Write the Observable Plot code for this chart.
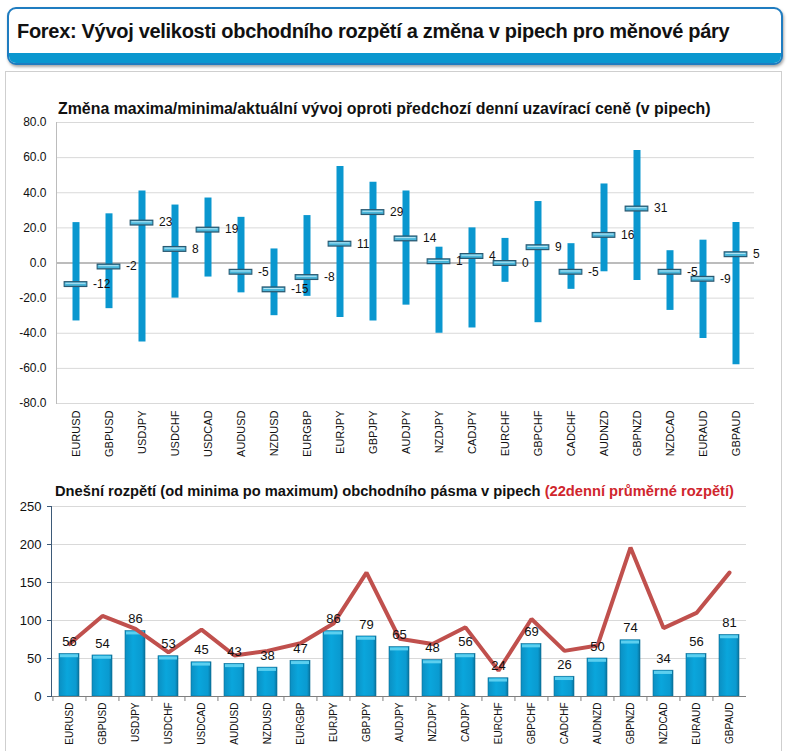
<!DOCTYPE html>
<html>
<head>
<meta charset="utf-8">
<script src="https://cdn.jsdelivr.net/npm/d3@7"></script>
<script src="https://cdn.jsdelivr.net/npm/@observablehq/plot@0.6"></script>
<style>
  html, body { margin: 0; padding: 0; background: #fff; }
  body { width: 792px; height: 751px; position: relative; overflow: hidden; font-family: "Liberation Sans", Arial, sans-serif; }
  #header { position: absolute; left: 7px; top: 7px; width: 772px; height: 54px; border: 2px solid #1f7cc0; border-radius: 9px; box-shadow: 1px 2px 3px rgba(0,0,0,0.35); overflow: hidden; background: #fff; }
  #header .band { position: absolute; left: 0; right: 0; bottom: 0; height: 10px; background: #0a97cf; }
  #header .t { position: absolute; left: 8px; top: 11px; font-size: 20px; font-weight: bold; color: #111; white-space: nowrap; letter-spacing: -0.3px; }
  #panel { position: absolute; left: 5px; top: 71px; width: 775px; height: 700px; border: 1px solid #cfcfcf; }
  .ctitle { position: absolute; font-weight: bold; color: #111; white-space: nowrap; }
  .chart { position: absolute; left: 0; }
</style>
</head>
<body>
<div id="header"><div class="t">Forex: Vývoj velikosti obchodního rozpětí a změna v pipech pro měnové páry</div><div class="band"></div></div>
<div id="panel"></div>
<div class="ctitle" id="t1" style="left:58px; top:100px; font-size:15.9px;">Změna maxima/minima/aktuální vývoj oproti předchozí denní uzavírací ceně (v pipech)</div>
<div class="ctitle" id="t2" style="left:55px; top:483px; font-size:14.7px;">Dnešní rozpětí (od minima po maximum) obchodního pásma v pipech <span style="color:#d0262d">(22denní průměrné rozpětí)</span></div>
<div class="chart" id="c1" style="top:115px;"></div>
<div class="chart" id="c2" style="top:500px;"></div>
<script>
const pairs = ["EURUSD","GBPUSD","USDJPY","USDCHF","USDCAD","AUDUSD","NZDUSD","EURGBP","EURJPY","GBPJPY","AUDJPY","NZDJPY","CADJPY","EURCHF","GBPCHF","CADCHF","AUDNZD","GBPNZD","NZDCAD","EURAUD","GBPAUD"];
const highs = [23,28,41,33,37,26,8,27,55,46,41,9,20,14,35,11,45,64,7,13,23];
const lows = [-33,-26,-45,-20,-8,-17,-30,-19,-31,-33,-24,-40,-37,-11,-34,-15,-5,-10,-27,-43,-58];
const current = [-12,-2,23,8,19,-5,-15,-8,11,29,14,1,4,0,9,-5,16,31,-5,-9,5];
const todayRange = [56,54,86,53,45,43,38,47,86,79,65,48,56,24,69,26,50,74,34,56,81];
const avgRange = [69,106,89,58,88,54,60,70,96,163,76,69,91,34,102,60,67,196,90,110,163];
const topTicks = [-80,-60,-40,-20,0,20,40,60,80];
const bottomTicks = [0,50,100,150,200,250];

const changeData = pairs.map((p,i) => ({pair:p, hi:highs[i], lo:lows[i], cur:current[i]}));
const rangeData = pairs.map((p,i) => ({pair:p, today:todayRange[i], avg:avgRange[i]}));

const font = "Liberation Sans, Arial, sans-serif";

const chart1 = Plot.plot({
  width: 792, height: 345,
  marginTop: 7, marginBottom: 57, marginLeft: 56, marginRight: 38,
  style: {fontFamily: font, fontSize: "12px", color: "#111", background: "transparent", overflow: "visible"},
  x: {domain: pairs, padding: 0, label: null},
  y: {domain: [-80, 80], label: null},
  marks: [
    Plot.ruleY(topTicks, {stroke: "#d9d9d9"}),
    Plot.ruleY([0], {stroke: "#8c8c8c"}),
    Plot.frame({anchor: "left", stroke: "#bcbcbc"}),
    Plot.axisY({ticks: topTicks, tickSize: 0, tickPadding: 10, tickFormat: d => d.toFixed(1), fontSize: 12, label: null}),
    Plot.axisX({tickSize: 0, tickPadding: 7, tickRotate: -90, fontSize: 11, label: null}),
    Plot.ruleX(changeData, {x: "pair", y1: "lo", y2: "hi", stroke: "#0a97cf", strokeWidth: 7}),
    Plot.tickY(changeData, {x: "pair", y: "cur", stroke: "#2a5870", strokeWidth: 6, insetLeft: 4.6, insetRight: 4.6}),
    Plot.tickY(changeData, {x: "pair", y: "cur", stroke: "#49b6da", strokeWidth: 3.5, insetLeft: 5.6, insetRight: 5.6}),
    Plot.tickY(changeData, {x: "pair", y: "cur", stroke: "#b9e8f6", strokeWidth: 1, dy: -0.8, insetLeft: 6.5, insetRight: 6.5}),
    Plot.text(changeData, {x: "pair", y: "cur", text: d => String(d.cur), dx: 17, textAnchor: "start", fontSize: 12, fill: "#111"})
  ]
});
document.getElementById("c1").appendChild(chart1);

const step = 695 / 21;
const chart2 = Plot.plot({
  width: 792, height: 250,
  marginTop: 6, marginBottom: 54, marginLeft: 51, marginRight: 46,
  style: {fontFamily: font, fontSize: "12px", color: "#111", background: "transparent", overflow: "visible"},
  x: {domain: pairs, paddingInner: 0.4, paddingOuter: 0.2, label: null},
  y: {domain: [0, 250], label: null},
  marks: [
    Plot.ruleY(bottomTicks.filter(d => d > 0), {stroke: "#d9d9d9"}),
    Plot.barY(rangeData, {x: "pair", y: "today", fill: "url(#barGrad)", stroke: "#0b6f96", strokeWidth: 0.6}),
    Plot.tickY(rangeData, {x: "pair", y: "today", stroke: "#5ccfef", strokeWidth: 3, dy: 1.8, inset: 1}),
    Plot.ruleY([0], {stroke: "#7f7f7f"}),
    Plot.frame({anchor: "left", stroke: "#3d5a78"}),
    Plot.axisY({ticks: bottomTicks, tickSize: 4, tickPadding: 6, fontSize: 13, stroke: "#3d5a78", color: "#111", label: null}),
    Plot.axisX({tickSize: 5, tickFormat: () => "", dx: -step / 2, stroke: "#7f7f7f", label: null}),
    Plot.axisX({tickSize: 0, tickPadding: 6, tickRotate: -90, fontSize: 10, label: null}),
    Plot.line(rangeData, {x: "pair", y: "avg", stroke: "#c0504d", strokeWidth: 4, strokeLinejoin: "miter"}),
    Plot.text(rangeData, {x: "pair", y: "today", text: d => String(d.today), dy: -12, fontSize: 13, fill: "#111"})
  ]
});
const defs = d3.select(chart2).insert("defs", ":first-child");
const g = defs.append("linearGradient").attr("id", "barGrad").attr("x1", "0").attr("x2", "1").attr("y1", "0").attr("y2", "0");
g.append("stop").attr("offset", "0%").attr("stop-color", "#0b8fc2");
g.append("stop").attr("offset", "40%").attr("stop-color", "#0aa6dc");
g.append("stop").attr("offset", "85%").attr("stop-color", "#0a9ad0");
g.append("stop").attr("offset", "100%").attr("stop-color", "#08729c");
document.getElementById("c2").appendChild(chart2);
</script>
</body>
</html>
